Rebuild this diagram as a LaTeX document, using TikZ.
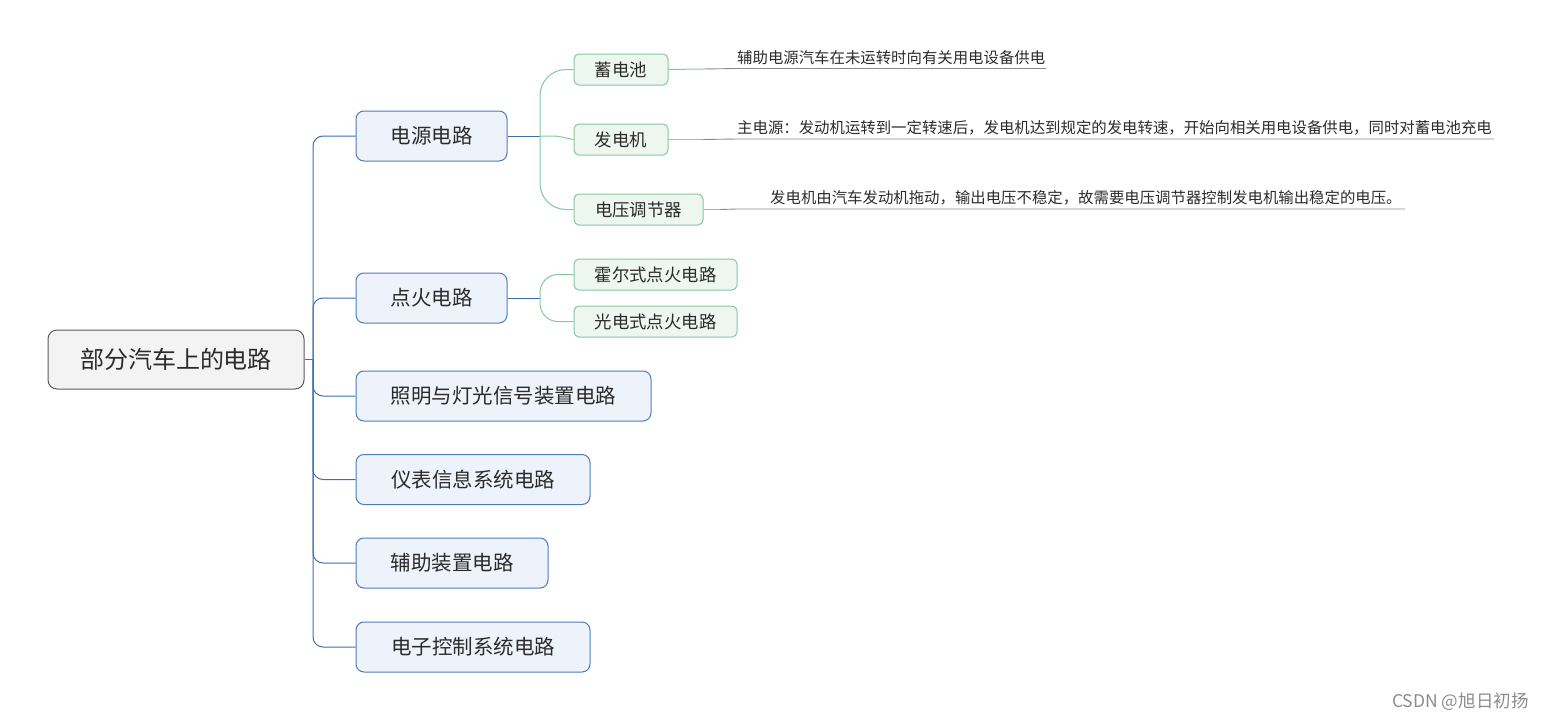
\documentclass[tikz,border=0pt]{standalone}
\usepackage{fontspec}
\newfontfamily\cjk{Noto Sans CJK SC}
\definecolor{rootfill}{HTML}{F3F3F3}
\definecolor{rootdraw}{HTML}{5A5A5A}
\definecolor{bluefill}{HTML}{EEF3FB}
\definecolor{bluedraw}{HTML}{4A7DBA}
\definecolor{trunkcol}{HTML}{3C6FB0}
\definecolor{greenfill}{HTML}{EDF7F0}
\definecolor{greendraw}{HTML}{86C79F}
\definecolor{txt}{HTML}{2B2B2B}
\definecolor{ulcol}{HTML}{8A8A8A}
\begin{document}
\begin{tikzpicture}[x=1pt,y=-1pt,
  rootbox/.style={draw=rootdraw,fill=rootfill,line width=1pt,rounded corners=9pt,inner sep=0pt,
    minimum width=256pt,minimum height=59pt,text=txt,font=\cjk\fontsize{24}{27}\selectfont},
  lvone/.style={draw=bluedraw,fill=bluefill,line width=1pt,rounded corners=8pt,inner sep=0pt,
    minimum height=50pt,text=txt,font=\cjk\fontsize{20.5}{23}\selectfont},
  lvtwo/.style={draw=greendraw,fill=greenfill,line width=1pt,rounded corners=5pt,inner sep=0pt,
    minimum height=31pt,text=txt,font=\cjk\fontsize{17.4}{20}\selectfont},
  note/.style={inner sep=0pt,anchor=base west,text=txt,font=\cjk\fontsize{15.4}{18}\selectfont},
  trunk/.style={draw=trunkcol,line width=1pt,rounded corners=10pt},
  twig/.style={draw=greendraw,line width=1pt,rounded corners=26pt},
  uline/.style={draw=ulcol,line width=0.9pt},
]
\useasboundingbox (0,0) rectangle (1543,720);

% root
\node[rootbox] (root) at (176,359.5) {部分汽车上的电路};

% level one
\node[lvone,minimum width=151pt] (power) at (431.5,136) {电源电路};
\node[lvone,minimum width=151pt] (ign) at (431.5,298) {点火电路};
\node[lvone,minimum width=295pt] (light) at (503.5,396) {照明与灯光信号装置电路};
\node[lvone,minimum width=234pt] (meter) at (473,479.5) {仪表信息系统电路};
\node[lvone,minimum width=192pt] (aux) at (452,563) {辅助装置电路};
\node[lvone,minimum width=234pt] (ecu) at (473,647) {电子控制系统电路};

% level two
\node[lvtwo,minimum width=94pt] (bat) at (621,69.5) {蓄电池};
\node[lvtwo,minimum width=94pt] (gen) at (621,139.5) {发电机};
\node[lvtwo,minimum width=129pt] (reg) at (638.5,209.5) {电压调节器};
\node[lvtwo,minimum width=163pt] (hall) at (655.5,274.5) {霍尔式点火电路};
\node[lvtwo,minimum width=163pt] (photo) at (655.5,321.5) {光电式点火电路};

% trunk connectors
\coordinate (tj) at (313,359.5);
\draw[trunk] (root.east) -- (tj);
\foreach \n in {power,ign,light,meter,aux,ecu}{
  \draw[trunk] (tj) |- (\n.west);
}

% branch connectors
\coordinate (pj) at (540,136);
\coordinate (ij) at (540,298);
\draw[trunk] (power.east) -- (pj);
\draw[trunk] (ign.east) -- (ij);
\draw[twig] (pj) |- (bat.west);
\draw[twig,rounded corners=4pt] (pj) -- (557,136) -- (gen.west);
\draw[twig] (pj) |- (reg.west);
\draw[twig,rounded corners=18pt] (ij) |- (hall.west);
\draw[twig,rounded corners=18pt] (ij) |- (photo.west);

% notes
\node[note] (n1) at (737,63) {辅助电源汽车在未运转时向有关用电设备供电};
\node[note] (n2) at (737,133.5) {主电源：发动机运转到一定转速后，发电机达到规定的发电转速，开始向相关用电设备供电，同时对蓄电池充电};
\node[note] (n3) at (770,203.5) {发电机由汽车发动机拖动，输出电压不稳定，故需要电压调节器控制发电机输出稳定的电压。};

\coordinate (u1a) at (737,68.5);
\coordinate (u1b) at (1046,68.5);
\coordinate (u2a) at (737,139);
\coordinate (u2b) at (1494,139);
\coordinate (u3a) at (737,209);
\coordinate (u3b) at (1405,209);
\coordinate (g1) at (703,69);
\coordinate (g2) at (703,139.5);
\coordinate (g3) at (720,209.5);

\draw[draw=greendraw,line width=1pt] (bat.east) -- (g1);
\draw[uline] (g1) -- (u1a) -- (u1b);
\draw[draw=greendraw,line width=1pt] (gen.east) -- (g2);
\draw[uline] (g2) -- (u2a) -- (u2b);
\draw[draw=greendraw,line width=1pt] (reg.east) -- (g3);
\draw[uline] (g3) -- (u3a) -- (u3b);

% watermark
\node[inner sep=0pt,anchor=west,text=black!45,font=\cjk\fontsize{17.5}{20}\selectfont] (wm) at (1392,702) {CSDN @旭日初扬};
\end{tikzpicture}
\end{document}
